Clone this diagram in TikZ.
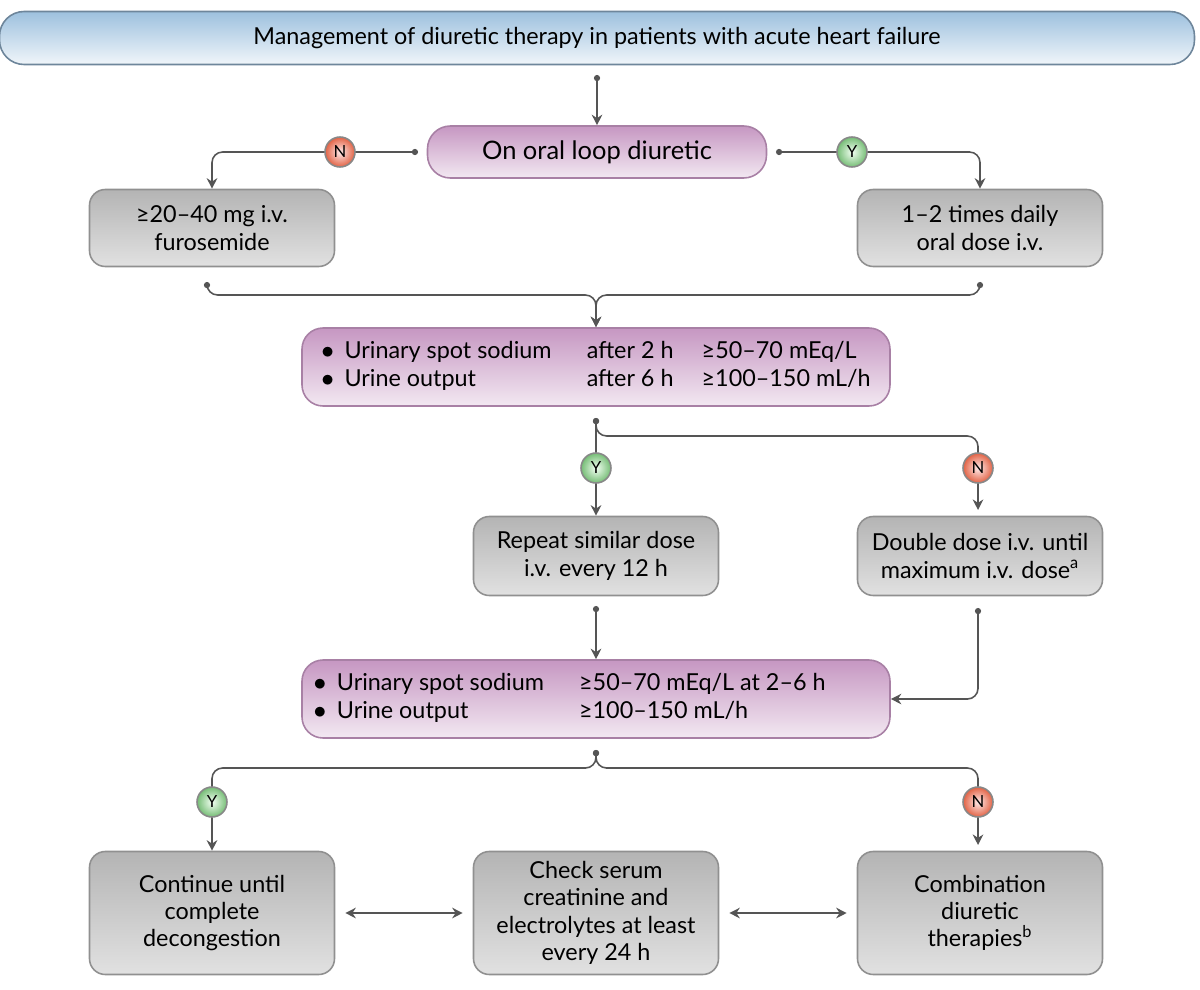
\documentclass[tikz,border=0pt]{standalone}
\usepackage{fontspec}
\setmainfont{Lato}
\usetikzlibrary{shapes, arrows.meta, positioning, calc}
\definecolor{linegray}{HTML}{555555}
\definecolor{boxgray}{HTML}{B4B4B4}
\definecolor{boxpink}{HTML}{C697C2}
\definecolor{boxblue}{HTML}{9DC0DE}
\begin{document}
\begin{tikzpicture}[x=0.02cm, y=-0.02cm, font=\fontsize{13.3}{15.5}\selectfont,
    line width=0.9pt, draw=linegray]
    \tikzstyle{grey}=[rectangle, draw=boxgray!80!black, rounded corners=9pt, top color=boxgray, bottom color=boxgray!40, minimum width=245*0.02cm, align=center, inner sep=3pt]
    \tikzstyle{pink}=[rectangle, draw=boxpink!85!black, rounded corners=12pt, top color=boxpink, bottom color=boxpink!22, align=left, inner sep=3pt]
    \tikzstyle{badge}=[circle, draw=linegray!70, minimum size=0.6cm, inner sep=0pt, font=\fontsize{9.5}{10}\selectfont]
    \tikzstyle{no}=[badge, inner color=red!8, outer color=red!45!brown!85]
    \tikzstyle{yes}=[badge, inner color=green!5, outer color=green!35!gray!80]
    \tikzstyle{flow}=[draw=linegray, -{Stealth[length=6pt,width=6pt]}, rounded corners=6pt]
    \tikzstyle{dotflow}=[flow, {Circle[length=3.5pt]}-{Stealth[length=6pt,width=6pt]}]
    \useasboundingbox (0,0) rectangle (1200,990);

    \node[rectangle, draw=boxblue!70!black, rounded corners=14pt, top color=boxblue, bottom color=boxblue!15, minimum width=1195*0.02cm, minimum height=53*0.02cm] (title) at (597,38) {Management of diuretic therapy in patients with acute heart failure};
    \node[pink, minimum width=339*0.02cm, minimum height=52*0.02cm, align=center, rounded corners=13pt, font=\fontsize{14.5}{16}\selectfont] (oral) at (597,152) {On oral loop diuretic};
    \node[grey, minimum height=77*0.02cm] (furo) at (212,228) {≥20--40 mg i.v.\\furosemide};
    \node[grey, minimum height=77*0.02cm] (daily) at (980,228) {1--2 times daily\\oral dose i.v.};
    \node[pink, minimum width=588*0.02cm, minimum height=78*0.02cm] (sodA) at (596,367) {%
      \begin{tabular}{@{}l@{\hspace{6pt}}l@{\hspace{20pt}}l@{\hspace{16pt}}l@{}}
      $\bullet$ & Urinary spot sodium & after 2 h & ≥50--70 mEq/L\\
      $\bullet$ & Urine output & after 6 h & ≥100--150 mL/h
      \end{tabular}};
    \node[grey, minimum height=79*0.02cm] (repeat) at (596,556) {Repeat similar dose\\i.v. every 12 h};
    \node[grey, minimum height=79*0.02cm] (double) at (980,556) {Double dose i.v. until\\maximum i.v. dose\textsuperscript{a}};
    \node[pink, minimum width=588*0.02cm, minimum height=78*0.02cm] (sodB) at (596,699) {%
      \begin{tabular}{@{}l@{\hspace{6pt}}l@{\hspace{20pt}}l@{}}
      $\bullet$ & Urinary spot sodium & ≥50--70 mEq/L at 2--6 h\\
      $\bullet$ & Urine output & ≥100--150 mL/h
      \end{tabular}\hspace*{30pt}};
    \node[grey, minimum height=123*0.02cm] (cont) at (212,913) {Continue until\\complete\\decongestion};
    \node[grey, minimum height=123*0.02cm] (check) at (596,913) {Check serum\\creatinine and\\electrolytes at least\\every 24 h};
    \node[grey, minimum height=123*0.02cm] (comb) at (980,913) {Combination\\diuretic\\therapies\textsuperscript{b}};

    \coordinate (tdot) at (597,75);
    \coordinate (oleft) at (418,152);
    \coordinate (oright) at (776,152);
    \coordinate (fdot) at (207,282);
    \coordinate (ddot) at (980,282);
    \coordinate (sAdot) at (596,418);
    \coordinate (rdot) at (596,606);
    \coordinate (dbdot) at (978,608);
    \coordinate (sBdot) at (596,750);

    \draw[dotflow] (tdot) -- (oral.north);
    \draw[dotflow] (oleft) -| (furo.north);
    \draw[dotflow] (oright) -| (daily.north);
    \draw[dotflow] (fdot) |- (596,295) -- (sodA.north);
    \draw[dotflow] (ddot) |- (596,295) -- (sodA.north);
    \draw[dotflow] (sAdot) -- (repeat.north);
    \draw[dotflow] (sAdot) |- (978,436) -- (978,510);
    \draw[dotflow] (rdot) -- (sodB.north);
    \draw[dotflow] (dbdot) |- (sodB.east);
    \draw[dotflow] (sBdot) |- (212,768) -- (cont.north);
    \draw[dotflow] (sBdot) |- (978,768) -- (978,845);
    \draw[{Stealth[length=6pt,width=6pt]}-{Stealth[length=6pt,width=6pt]}, linegray] ($(cont.east)+(10,0)$) coordinate (c1) -- ($(check.west)+(-10,0)$) coordinate (c2);
    \draw[{Stealth[length=6pt,width=6pt]}-{Stealth[length=6pt,width=6pt]}, linegray] ($(check.east)+(10,0)$) coordinate (c3) -- ($(comb.west)+(-10,0)$) coordinate (c4);

    % decision badges
    \node[no] (n1) at (340,152) {N};
    \node[yes] (y1) at (852,152) {Y};
    \node[yes] (y2) at (596,468) {Y};
    \node[no] (n2) at (978,468) {N};
    \node[yes] (y3) at (212,802) {Y};
    \node[no] (n3) at (978,802) {N};
\end{tikzpicture}
\end{document}
